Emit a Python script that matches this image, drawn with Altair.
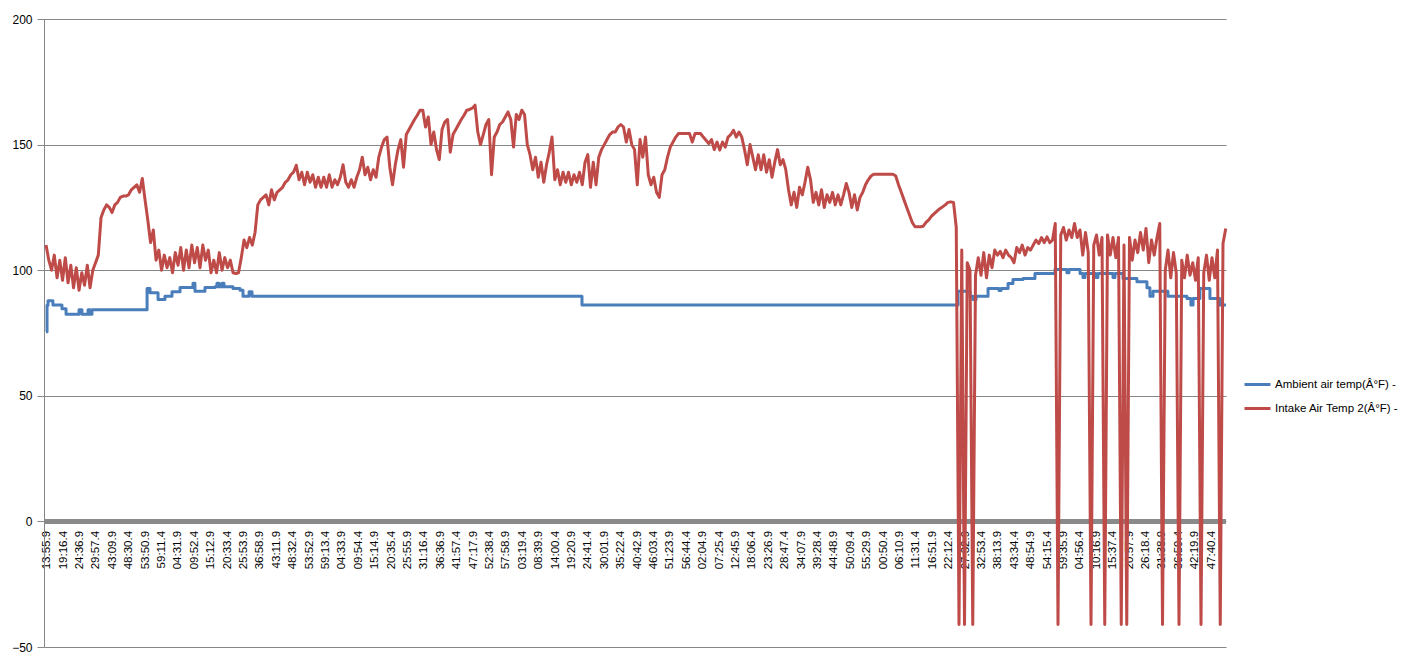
import json
import altair as alt
import pandas as pd

# ---------------- data ----------------
LABELS = ["13:55.9", "19:16.4", "24:36.9", "29:57.4", "43:09.9", "48:30.4", "53:50.9", "59:11.4",
          "04:31.9", "09:52.4", "15:12.9", "20:33.4", "25:53.9", "36:58.9", "43:11.9", "48:32.4",
          "53:52.9", "59:13.4", "04:33.9", "09:54.4", "15:14.9", "20:35.4", "25:55.9", "31:16.4",
          "36:36.9", "41:57.4", "47:17.9", "52:38.4", "57:58.9", "03:19.4", "08:39.9", "14:00.4",
          "19:20.9", "24:41.4", "30:01.9", "35:22.4", "40:42.9", "46:03.4", "51:23.9", "56:44.4",
          "02:04.9", "07:25.4", "12:45.9", "18:06.4", "23:26.9", "28:47.4", "34:07.9", "39:28.4",
          "44:48.9", "50:09.4", "55:29.9", "00:50.4", "06:10.9", "11:31.4", "16:51.9", "22:12.4",
          "27:32.9", "32:53.4", "38:13.9", "43:34.4", "48:54.9", "54:15.4", "59:35.9", "04:56.4",
          "10:16.9", "15:37.4", "20:57.9", "26:18.4", "31:38.9", "36:59.4", "42:19.9", "47:40.4"]

SERIES = ["Ambient air temp(Â°F) -", "Intake Air Temp 2(Â°F) -"]

# Intake air temp, sampled uniformly along the category axis
RED_START = -0.04      # first sample, in label-interval units
RED_STEP = 0.16768     # sampling interval, in label-interval units
RED = [
    110, 104, 100, 106, 97, 104, 96, 105, 95, 102,
    93, 101, 92, 99, 94, 102, 93, 100, 103, 106,
    121, 124, 126, 125, 123, 126, 127, 129, 129.5, 129.5,
    130, 132, 133, 134, 131, 136.5, 128, 120, 111, 116,
    104, 108, 100, 106, 101, 105, 99, 107, 102, 109,
    100, 108, 101, 110, 103, 109, 101, 110, 104, 108,
    99, 104, 99, 107, 100, 105, 101, 104, 99, 98.7,
    99, 105, 112, 109, 113, 110, 115, 126, 128, 129,
    130, 126, 132, 128, 131, 132, 133, 135, 136, 138,
    139, 141.8, 136, 139, 134, 139, 135, 138, 133, 137,
    133, 137, 133, 138, 133, 136, 134, 137, 142, 135,
    133, 136, 133, 137, 140, 145, 138, 141, 136, 140,
    137, 145, 149, 152, 153, 141, 134, 142, 148, 152,
    141, 154, 156, 158, 160, 161.7, 163.7, 163.7, 157, 161,
    150, 155, 148, 144, 156, 159, 160, 147, 154, 156,
    158, 160, 161.7, 163.7, 164, 164.5, 165.7, 155, 150, 154,
    158, 160, 138, 153, 155, 158, 159, 161, 163, 160,
    149, 162, 160, 163.7, 162, 150, 146, 140, 145, 137,
    143, 135, 142, 147, 153, 136, 140, 134, 139, 135,
    139, 134, 138, 135, 139, 134, 143, 146, 133, 143,
    134, 145, 148, 150, 152, 154, 155, 155, 157, 158,
    157, 151, 156, 150, 148, 134, 152, 145, 153, 138,
    134, 137, 131, 129, 138, 140, 145, 149, 151, 153,
    154.4, 154.4, 154.4, 154.4, 154.4, 151, 154.4, 154.4, 154.4, 153,
    151.7, 150.4, 152, 148, 151, 147.8, 151, 149, 153, 154,
    155.7, 153, 155, 153, 148, 142, 150, 145, 140, 146,
    140, 146, 139, 144, 137, 143, 148, 142, 144, 140,
    132, 126, 131, 125, 133, 130, 135, 141, 136, 127,
    131, 126, 132, 125, 130, 127, 131, 126, 130, 126,
    130, 134.5, 131, 125, 130, 124, 129, 131, 134, 136,
    137.5, 138.2, 138.2, 138.2, 138.2, 138.2, 138.2, 138.2, 138.2, 137.5,
    134, 131, 128, 125, 122, 119, 117.3, 117.3, 117.3, 117.5,
    119, 120, 121.5, 122.5, 123.5, 124.5, 125.2, 126, 127, 127.2,
    127, 117, -41, 108, -41, 103, 100, -41, 98, 105,
    98, 107, 97, 106, 101, 108, 106, 107.5, 105, 108,
    106, 105, 103, 109, 107, 110, 106, 109, 108, 110,
    112, 110.6, 113, 111, 113.3, 111, 112, 118.6, -41, 114,
    117, 112, 116, 113, 118.6, 113, 116, 106, 115, 107,
    -41, 110, 114, 106, 113, -41, 114, 106, 113, 105,
    113, -41, 110, -41, 113, 104, 112, 107, 115, 108,
    116.6, 103, 112, 106, 113, 118.6, -41, 100, 108, 97,
    107, 99, -41, 104, 97, 106, 98, 103, 96, 105,
    -41, 99, 106, 96, 105, 97, 108, -41, 110.6, 116.6,
]

# Ambient air temp: step changes (position in label-interval units, new value)
BLUE_AT = [-0.04, 0.02, 0.08, 0.38, 0.93, 1.18, 1.97, 2.15, 2.52, 2.64, 2.76,
           6.12, 6.30, 6.79, 7.21, 7.64, 8.13, 8.92, 9.04, 9.65, 10.26, 10.38,
           10.51, 10.69, 10.81, 11.36, 11.79, 11.97, 12.34, 12.52, 32.64,
           55.57, 56.30, 56.48, 56.67, 57.40, 58.07, 58.19, 58.62, 58.92, 59.53,
           60.26, 61.48, 62.21, 62.33, 63.01, 63.19, 63.31, 63.98, 64.10, 65.02,
           65.14, 65.63, 66.48, 67.09, 67.27, 67.46, 68.37, 69.53, 69.77, 69.90,
           70.32, 70.93, 71.54, 71.91]
BLUE = [75.5, 86, 87.8, 86.1, 84.7, 82.5, 84.3, 82.5, 84.3, 82.5, 84.3,
        92.7, 91, 88.3, 89.6, 91.4, 93.1, 94.8, 91.6, 93.1, 93.4, 94.8,
        93.4, 94.8, 93.4, 92.7, 92, 89.6, 91.4, 89.6, 86.1,
        91.6, 89.6, 88.3, 89.6, 92.7, 91.9, 92.7, 94.7, 96.3, 96.7,
        98.7, 100.3, 99, 100.3, 98.7, 97.1, 98.7, 97.1, 98.7, 97.1,
        98.7, 96.7, 95.4, 93, 89.6, 91.6, 89.6, 88.7, 86.1, 88.7,
        92.7, 88.7, 86.1, 86.1]

Y_TICKS = [-50, 0, 50, 100, 150, 200]

# ---------------- frames ----------------
n = min(len(BLUE_AT), len(BLUE))
blue_df = pd.DataFrame({"L": BLUE_AT[:n], "v": BLUE[:n], "series": SERIES[0]})
red_df = pd.DataFrame({"L": [round(RED_START + i * RED_STEP, 4) for i in range(len(RED))],
                       "v": RED, "series": SERIES[1]})
zero_df = pd.DataFrame({"L": [0], "v": [0]})

FONT = "Liberation Sans"
BLUE_C = "#4A7EBB"
RED_C = "#BE4B48"
GRID_C = "#868686"

label_expr = json.dumps(LABELS) + "[datum.value]"

x_scale = alt.Scale(domain=[-0.165, 71.91], nice=False, zero=False)
x_axis = alt.Axis(values=list(range(len(LABELS))), labelExpr=label_expr, labelAngle=270,
                  labelAlign="right", labelBaseline="middle", labelPadding=9,
                  labelFontSize=11.5, labelFont=FONT, labelColor="#000000",
                  ticks=False, domain=False, grid=False, offset=-125.6, title=None,
                  labelOverlap=False, labelFlush=False, labelBound=False)
y_scale = alt.Scale(domain=[-50, 200], nice=False, zero=False)
y_axis = alt.Axis(values=Y_TICKS, grid=True, gridColor=GRID_C, gridWidth=1,
                  domainColor=GRID_C, tickColor=GRID_C, tickSize=7, labelPadding=5,
                  labelFontSize=12, labelFont=FONT, labelColor="#000000", title=None)

X = alt.X("L:Q", scale=x_scale, axis=x_axis)
Y = alt.Y("v:Q", scale=y_scale, axis=y_axis)

color = alt.Color("series:N",
                  scale=alt.Scale(domain=SERIES, range=[BLUE_C, RED_C]),
                  legend=alt.Legend(orient="none", legendX=1199, legendY=351, title=None,
                                    symbolType="stroke", symbolStrokeWidth=3, symbolSize=676,
                                    labelFont=FONT, labelFontSize=11.5, labelColor="#000000",
                                    labelOffset=3, rowPadding=3, labelLimit=400))

zero_rule = alt.Chart(zero_df).mark_rule(color="#8A8A8A", strokeWidth=5).encode(y=Y)

blue_line = alt.Chart(blue_df).mark_line(strokeWidth=3, interpolate="step-after",
                                         strokeJoin="round").encode(x=X, y=Y, color=color)
red_line = alt.Chart(red_df).mark_line(strokeWidth=3, strokeJoin="round").encode(
    x=X, y=Y, color=color)

chart = alt.layer(zero_rule, blue_line, red_line).properties(
    width=1182, height=628,
    padding={"left": 44, "top": 19, "right": 180, "bottom": 10},
    autosize=alt.AutoSizeParams(type="none"),
).configure(font=FONT, background="#ffffff").configure_view(strokeWidth=0)

chart.save("out.html", embed_options={"renderer": "svg", "actions": False})
